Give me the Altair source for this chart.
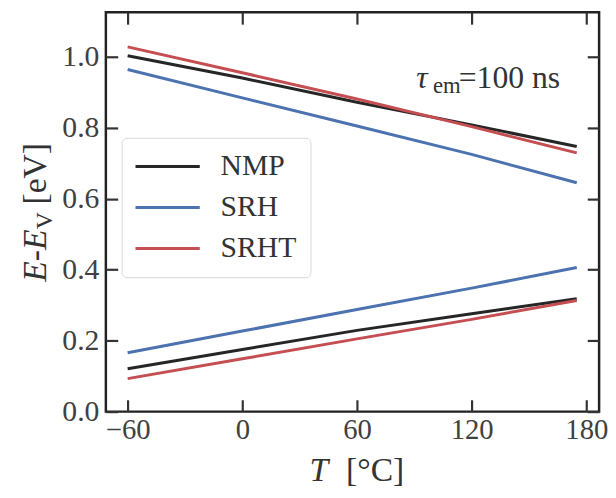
import altair as alt
import pandas as pd

# ---- data ----
T = [-60, 0, 60, 120, 175]
models = ["NMP", "SRH", "SRHT"]
nmp_upper = [1.003, 0.940, 0.872, 0.808, 0.747]
nmp_lower = [0.121, 0.175, 0.229, 0.276, 0.318]
srh_upper = [0.964, 0.884, 0.805, 0.725, 0.645]
srh_lower = [0.166, 0.227, 0.288, 0.348, 0.406]
srht_upper = [1.028, 0.955, 0.881, 0.803, 0.729]
srht_lower = [0.093, 0.149, 0.205, 0.260, 0.313]
colors = ["#262626", "#4c72b0", "#c44e52"]
x_ticks = [-60, 0, 60, 120, 180]
y_ticks = [0.0, 0.2, 0.4, 0.6, 0.8, 1.0]
x_domain = [-71.4, 186.7]
y_domain = [0.0, 1.1253]

series = {
    ("NMP", "upper"): nmp_upper, ("NMP", "lower"): nmp_lower,
    ("SRH", "upper"): srh_upper, ("SRH", "lower"): srh_lower,
    ("SRHT", "upper"): srht_upper, ("SRHT", "lower"): srht_lower,
}
rows = []
for (m, b), vals in series.items():
    for t, v in zip(T, vals):
        rows.append({"T": t, "E": v, "model": m, "branch": m + b})
df = pd.DataFrame(rows)

FONT = "Liberation Serif"
W, H = 499, 404

xs = alt.Scale(domain=x_domain, nice=False, zero=False)
ys = alt.Scale(domain=y_domain, nice=False, zero=False)

common_axis = dict(offset=-12, tickSize=12, tickWidth=2.2, tickColor="#333333",
                   domain=False, grid=False, title=None,
                   labelFont=FONT, labelColor="#404040")

lines = alt.Chart(df).mark_line(strokeWidth=3, clip=True).encode(
    x=alt.X("T:Q", scale=xs, axis=alt.Axis(orient="bottom", values=x_ticks, format="d",
                                           labelPadding=4, labelFontSize=29,
                                           **common_axis)),
    y=alt.Y("E:Q", scale=ys, axis=alt.Axis(orient="left", values=y_ticks, format=".1f",
                                           labelPadding=7, labelFontSize=30,
                                           **common_axis)),
    color=alt.Color("model:N", scale=alt.Scale(domain=models, range=colors),
                    legend=alt.Legend(title=None, orient="none", legendX=16, legendY=127,
                                      symbolType="M-2.5,0H2.5", symbolSize=676,
                                      symbolStrokeWidth=3, symbolOffset=17.5,
                                      labelFont=FONT,
                                      labelFontSize=30, labelColor="#333333",
                                      fillColor="white", strokeColor="#d9d9d9",
                                      cornerRadius=5, padding=14, rowPadding=11.5,
                                      labelOffset=38.5)),
    detail="branch:N",
)

ghost = alt.Chart(df).mark_point(opacity=0).encode(
    x=alt.X("T:Q", scale=xs, axis=alt.Axis(orient="top", values=x_ticks, labels=False,
                                           offset=-12, tickSize=12, tickWidth=2.2,
                                           tickColor="#333333", domain=False, grid=False,
                                           title=None)),
    y=alt.Y("E:Q", scale=ys, axis=alt.Axis(orient="right", values=y_ticks, labels=False,
                                           offset=-12, tickSize=12, tickWidth=2.2,
                                           tickColor="#333333", domain=False, grid=False,
                                           title=None)),
)


def txt(s, x, y, size=30, style="normal", angle=0, color="#333333"):
    return alt.Chart(pd.DataFrame({"s": [s]})).mark_text(
        font=FONT, fontSize=size, fontStyle=style, align="left",
        baseline="alphabetic", angle=angle, color=color
    ).encode(x=alt.value(x), y=alt.value(y), text="s:N")


# annotation tau_em = 100 ns
ann = [
    txt("τ", 314, 76.5, 32, "italic"),
    txt("em", 331, 81.5, 23),
    txt("=100 ns", 357, 76.5, 32),
]
# x axis title
xt = [
    txt("T", 206, 474.5, 34, "italic"),
    txt("[°C]", 243, 474.5, 34),
]
# y axis title (rotated)
yt = [
    txt("E-E", -61, 272.5, 34, "italic", 270),
    txt("V", -54, 219.5, 24, "normal", 270),
    txt("[eV]", -61, 194.5, 34, "normal", 270),
]

chart = alt.layer(lines, ghost, *ann, *xt, *yt).resolve_axis(
    x="independent", y="independent"
).properties(
    width=W, height=H,
    autosize=alt.AutoSizeParams(type="none"),
    padding={"left": 99, "top": 1.5, "right": 9, "bottom": 82},
).configure_view(stroke="#222222", strokeWidth=2.5)

chart.save("out.html", embed_options={"renderer": "svg", "actions": False})
